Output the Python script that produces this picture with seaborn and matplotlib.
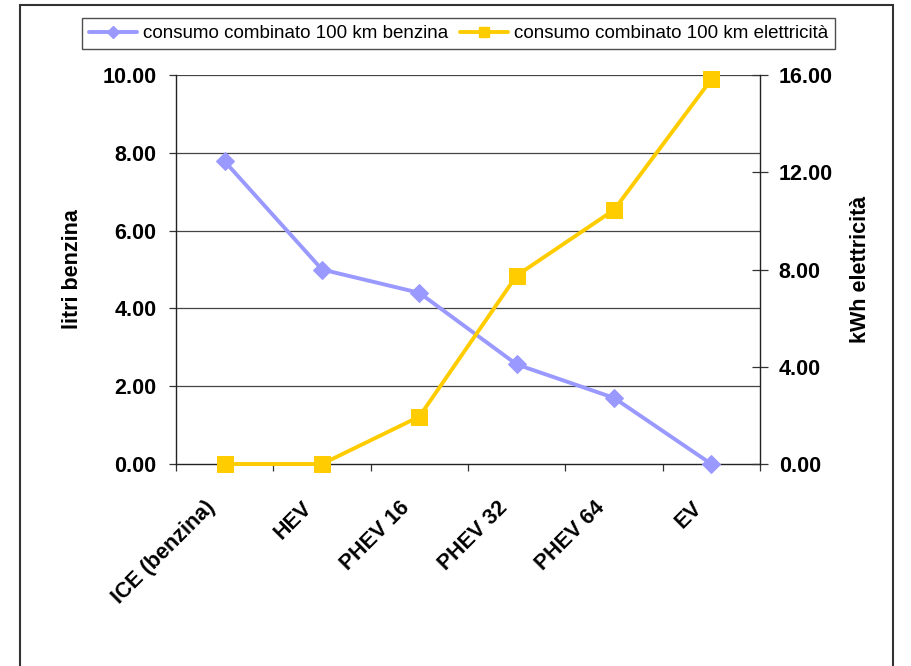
import matplotlib
matplotlib.use("Agg")
import matplotlib.pyplot as plt
from matplotlib.patches import Rectangle
from matplotlib.lines import Line2D
from matplotlib.transforms import ScaledTranslation
import numpy as np
import pandas as pd
import seaborn as sns

categories = ["ICE (benzina)", "HEV", "PHEV 16", "PHEV 32", "PHEV 64", "EV"]
benzina = [7.78, 5.00, 4.40, 2.56, 1.70, 0.00]
elettricita = [0.00, 0.00, 1.95, 7.75, 10.45, 15.82]
left_ticks = [0, 2, 4, 6, 8, 10]
right_ticks = [0, 4, 8, 12, 16]
label_benzina = "consumo combinato 100 km benzina"
label_elettricita = "consumo combinato 100 km elettricità"

sns.set_theme(style="white")
plt.rcParams["font.family"] = ["Liberation Sans", "DejaVu Sans"]
plt.rcParams["text.color"] = "black"
plt.rcParams["axes.labelcolor"] = "black"
plt.rcParams["xtick.color"] = "black"
plt.rcParams["ytick.color"] = "black"

df = pd.DataFrame({
    "pos": np.arange(len(categories)),
    "categoria": categories,
    "benzina": benzina,
    "elettricita": elettricita,
})

fig = plt.figure(figsize=(9.12, 6.66), dpi=100)
ax = fig.add_axes([176 / 912, 1 - 464 / 666, (760 - 176) / 912, (464 - 75) / 666])
ax2 = ax.twinx()

col_b = "#9999FF"
col_e = "#FFCC00"

# horizontal grid on the left scale
for v in left_ticks[1:]:
    ax.axhline(v, color="#444444", lw=0.9, zorder=0)

sns.lineplot(data=df, x="pos", y="benzina", ax=ax, color=col_b, lw=2.8,
             marker="D", markersize=9, markeredgecolor=col_b, zorder=3, clip_on=False)
sns.lineplot(data=df, x="pos", y="elettricita", ax=ax2, color=col_e, lw=2.8,
             marker="s", markersize=11, markeredgecolor=col_e, zorder=3, clip_on=False)

n = len(categories)
for a in (ax, ax2):
    a.set_xlim(-0.5, n - 0.5)
    a.set_facecolor("none")
ax.set_ylim(0, 10)
ax2.set_ylim(0, 16)

ax.set_yticks(left_ticks)
ax.set_yticklabels([f"{v:.2f}" for v in left_ticks], fontsize=15.5, fontweight="bold")
ax2.set_yticks(right_ticks)
ax2.set_yticklabels([f"{v:.2f}" for v in right_ticks], fontsize=15.5, fontweight="bold")

# category boundaries carry the tick marks
ax.set_xticks(np.arange(n + 1) - 0.5)
ax.set_xticklabels([])
ax.tick_params(axis="x", which="major", direction="out", length=5, width=0.9,
               color="#333333", bottom=True)
ax.tick_params(axis="y", direction="out", length=5, width=0.9, color="#333333",
               left=True, pad=9)
ax2.tick_params(axis="y", direction="inout", length=11, width=0.9, color="#333333",
                right=True, pad=8)

# slanted category names under each category centre
label_tr = ax.get_xaxis_transform() + ScaledTranslation(-0.20, -0.33, fig.dpi_scale_trans)
for i, cat in enumerate(categories):
    ax.text(i, 0, cat, transform=label_tr, rotation=45, ha="right", va="top",
            rotation_mode="anchor", fontsize=15.5, fontweight="bold")

ax.set_xlabel("")
ax.set_ylabel("litri benzina", fontsize=15.5, fontweight="bold", labelpad=14)
ax2.set_ylabel("kWh elettricità", fontsize=15.5, fontweight="bold", labelpad=12)

for a in (ax, ax2):
    for s in a.spines.values():
        s.set_visible(False)
ax.spines["left"].set_visible(True)
ax.spines["bottom"].set_visible(True)
ax2.spines["right"].set_visible(True)
for sp in (ax.spines["left"], ax.spines["bottom"], ax2.spines["right"]):
    sp.set_color("#222222")
    sp.set_linewidth(1.0)

handles = [
    Line2D([], [], color=col_b, lw=2.8, marker="D", markersize=6),
    Line2D([], [], color=col_e, lw=2.8, marker="s", markersize=7),
]
leg = fig.legend(handles, [label_benzina, label_elettricita], ncol=2,
                 loc="center", bbox_to_anchor=((79 + 838) / 2 / 912, 1 - 33.5 / 666),
                 fontsize=13.5, frameon=True, fancybox=False, shadow=False,
                 handlelength=2.6, handletextpad=0.3, columnspacing=0.6,
                 borderpad=0.35, borderaxespad=0)
leg.get_frame().set_edgecolor("#222222")
leg.get_frame().set_linewidth(1.0)

# outer chart-area border
fig.patches.append(Rectangle((20 / 912, -0.02), (893 - 20) / 912, 1 - 5 / 666 + 0.02,
                             transform=fig.transFigure, fill=False,
                             edgecolor="#333333", lw=1.5, zorder=10))

fig.savefig("out.png", dpi=100)
